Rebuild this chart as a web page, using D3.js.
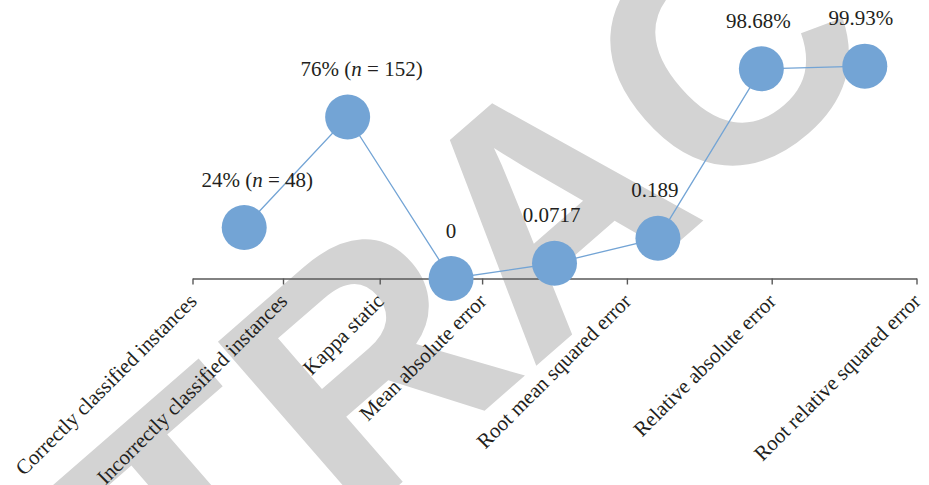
<!DOCTYPE html>
<html>
<head>
<meta charset="utf-8">
<script src="https://cdn.jsdelivr.net/npm/d3@7"></script>
<style>
  html, body { margin: 0; padding: 0; background: #ffffff; }
  svg { display: block; }
</style>
</head>
<body>
<div id="chart"></div>
<script>
// Classifier evaluation metrics
const categories = [
  "Correctly classified instances",
  "Incorrectly classified instances",
  "Kappa static",
  "Mean absolute error",
  "Root mean squared error",
  "Relative absolute error",
  "Root relative squared error"
];
// value of each metric as a fraction of 1
const values = [0.24, 0.76, 0, 0.0717, 0.189, 0.9868, 0.9993];
// instance counts shown next to the two classification rates
const counts = [48, 152, null, null, null, null, null];
// how each value is printed above its marker
const labelKinds = ["pctN", "pctN", "num", "num", "num", "pct2", "pct2"];

// tick placement along the axis, in category-slot units
const tickSlots = [0, 0.875, 1.81, 2.8, 4.2, 5.6, 7];
// horizontal nudge of each value label
const labelNudge = [13, 14, 0, -3, -3, -3, -4];

const W = 929, H = 485;
const blue = "#73a4d5";
const ink = "#231f20";
const serif = "'Liberation Serif', 'Times New Roman', serif";
const fontPx = 21;

const svg = d3.select("#chart").append("svg")
  .attr("width", W).attr("height", H);

// watermark behind the chart
svg.append("text")
  .attr("transform", "translate(620,293) rotate(-41)")
  .attr("text-anchor", "middle")
  .attr("font-family", "'Liberation Sans', Arial, sans-serif")
  .attr("font-weight", "bold")
  .attr("font-size", 330)
  .attr("fill", "#d3d3d3")
  .text("RETRACTED");

const x0 = 192.5, x1 = 916.5, yBase = 278.5, yTop = 66;

const x = d3.scaleBand().domain(categories).range([x0, x1]).padding(0);
const slot = d3.scaleLinear().domain([0, categories.length]).range([x0, x1]);
const y = d3.scaleLinear().domain([0, 1]).range([yBase, yTop]);

// category axis
const axis = d3.axisBottom(slot)
  .tickValues(tickSlots)
  .tickSize(6)
  .tickSizeOuter(0)
  .tickFormat((d, i) => categories[i]);

const gx = svg.append("g")
  .attr("transform", `translate(0,${yBase})`)
  .call(axis);
gx.select(".domain").attr("stroke", "#595959").attr("stroke-width", 1.6);
gx.selectAll(".tick line").attr("stroke", "#595959").attr("stroke-width", 1.4);
gx.selectAll(".tick text")
  .attr("font-family", serif)
  .attr("font-size", fontPx)
  .attr("fill", ink)
  .attr("text-anchor", "end")
  .attr("y", 0).attr("dy", 0)
  .attr("transform", "translate(5,24) rotate(-45)");

const cx = (d, i) => x(categories[i]) + x.bandwidth() / 2;

// connecting line
const line = d3.line()
  .x((d, i) => cx(d, i))
  .y(d => y(d));
svg.append("path")
  .datum(values)
  .attr("d", line)
  .attr("fill", "none")
  .attr("stroke", blue)
  .attr("stroke-width", 1.3);

// markers
const r = 22.5;
svg.append("g").selectAll("circle")
  .data(values)
  .join("circle")
  .attr("cx", cx)
  .attr("cy", d => y(d))
  .attr("r", r)
  .attr("fill", blue);

// value labels
const fmtNum = d => d === 0 ? "0" : String(d);
const labels = svg.append("g")
  .attr("font-family", serif)
  .attr("font-size", fontPx)
  .attr("fill", ink)
  .attr("text-anchor", "middle");

values.forEach((v, i) => {
  const t = labels.append("text")
    .attr("x", cx(v, i) + labelNudge[i])
    .attr("y", y(v) - r - 18.5);
  const kind = labelKinds[i];
  if (kind === "pctN") {
    t.append("tspan").text(`${Math.round(v * 100)}% (`);
    t.append("tspan").attr("font-style", "italic").text("n");
    t.append("tspan").text(` = ${counts[i]})`);
  } else if (kind === "pct2") {
    t.text(`${(v * 100).toFixed(2)}%`);
  } else {
    t.text(fmtNum(v));
  }
});
</script>
</body>
</html>
